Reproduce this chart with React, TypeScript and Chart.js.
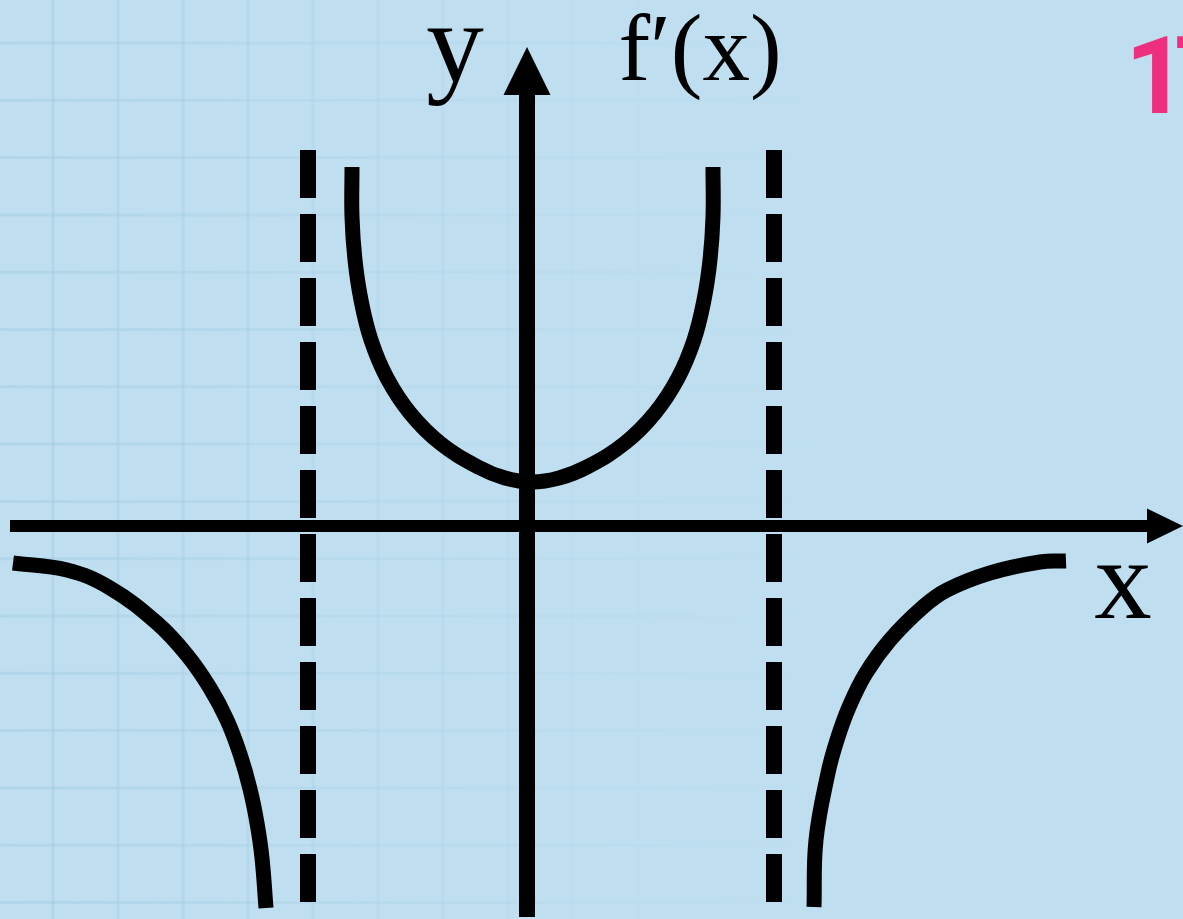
import { useEffect, useRef } from "react";
import { Chart, registerables } from "chart.js";

Chart.register(...registerables);

// Data-space window (1 unit = 100 px)
const xRange = [-5.27, 6.56];
const yRange = [-3.93, 5.26];

// f'(x) middle branch (U shape between the asymptotes)
const parabolaX = [-1.75, -1.75, -1.72, -1.66, -1.56, -1.4, -1.17, -0.87, -0.49, -0.22, 0.05, 0.32, 0.6, 0.98, 1.28, 1.51, 1.67, 1.77, 1.83, 1.86, 1.86];
const parabolaY = [3.59, 3.09, 2.66, 2.26, 1.86, 1.48, 1.13, 0.83, 0.59, 0.48, 0.44, 0.48, 0.59, 0.83, 1.13, 1.48, 1.86, 2.26, 2.66, 3.09, 3.59];

// left branch (x < left asymptote)
const leftX = [-5.14, -4.6, -4.17, -3.7, -3.4, -3.17, -3.0, -2.87, -2.77, -2.7, -2.65, -2.61];
const leftY = [-0.37, -0.44, -0.62, -0.97, -1.29, -1.62, -1.94, -2.28, -2.63, -2.97, -3.32, -3.82];

// right branch (x > right asymptote)
const rightX = [2.87, 2.89, 3.01, 3.1, 3.22, 3.39, 3.63, 3.96, 4.2, 4.63, 5.13, 5.39];
const rightY = [-3.81, -3.14, -2.47, -2.14, -1.81, -1.47, -1.14, -0.81, -0.64, -0.47, -0.36, -0.35];

// vertical asymptotes
const asymptoteXs = [-2.19, 2.47];
const asymptoteYs = [3.76, -3.76];

// axes
const xAxisXs = [-5.17, 6.2];
const xAxisTip = 6.56;
const yAxisYs = [-3.91, 4.31];
const yAxisTip = 4.79;

const labelY = "y";
const labelF = "f\u2032(x)";
const labelX = "x";
const cornerText = "17";

const BG = "rgb(191,223,241)";

const pts = (xs: number[], ys: number[]) => xs.map((x, i) => ({ x, y: ys[i] }));

export default function App() {
  const ref = useRef<HTMLCanvasElement | null>(null);

  useEffect(() => {
    const canvas = ref.current!;
    const decor = {
      id: "decor",
      beforeDraw(chart: any) {
        const ctx = chart.ctx as CanvasRenderingContext2D;
        const W = chart.width, H = chart.height;
        ctx.save();
        ctx.fillStyle = BG;
        ctx.fillRect(0, 0, W, H);
        ctx.lineWidth = 3;
        // vertical grid lines fading to the right
        for (let gx = 53; gx < W; gx += 65) {
          const a = Math.max(0, 1 - gx / 700);
          if (a <= 0) continue;
          ctx.strokeStyle = `rgba(165,204,226,${0.55 * a})`;
          ctx.beginPath();
          ctx.moveTo(gx, 0);
          ctx.lineTo(gx, H);
          ctx.stroke();
        }
        const grad = ctx.createLinearGradient(0, 0, 850, 0);
        grad.addColorStop(0, "rgba(165,204,226,0.55)");
        grad.addColorStop(0.5, "rgba(165,204,226,0.25)");
        grad.addColorStop(1, "rgba(165,204,226,0)");
        ctx.strokeStyle = grad;
        for (let gy = 43; gy < H; gy += 57.3) {
          ctx.beginPath();
          ctx.moveTo(0, gy);
          ctx.lineTo(850, gy);
          ctx.stroke();
        }
        ctx.restore();
      },
      afterDatasetsDraw(chart: any) {
        const ctx = chart.ctx as CanvasRenderingContext2D;
        const xs = chart.scales.x, ys = chart.scales.y;
        const ox = xs.getPixelForValue(0), oy = ys.getPixelForValue(0);
        ctx.save();
        ctx.fillStyle = "#000";
        // y arrow
        const yb = ys.getPixelForValue(yAxisYs[1]);
        const yt = ys.getPixelForValue(yAxisTip);
        ctx.beginPath();
        ctx.moveTo(ox, yt);
        ctx.lineTo(ox - 23.5, yb);
        ctx.lineTo(ox + 23.5, yb);
        ctx.closePath();
        ctx.fill();
        // x arrow
        const xb = xs.getPixelForValue(xAxisXs[1]);
        const xt = xs.getPixelForValue(xAxisTip);
        ctx.beginPath();
        ctx.moveTo(xt, oy);
        ctx.lineTo(xb, oy - 17.5);
        ctx.lineTo(xb, oy + 17.5);
        ctx.closePath();
        ctx.fill();
        // labels
        ctx.textAlign = "center";
        ctx.textBaseline = "alphabetic";
        ctx.font = "115px 'Liberation Serif'";
        ctx.fillText(labelY, ox - 72, oy - 444);
        ctx.fillText(labelX, ox + 596, oy + 92);
        ctx.font = "95px 'Liberation Serif'";
        ctx.fillText(labelF, ox + 173, oy - 446);
        // corner pink text
        ctx.textAlign = "left";
        ctx.fillStyle = "#EE2F7F";
        ctx.font = "bold 108px Roboto";
        (ctx as any).letterSpacing = "-13px";
        ctx.fillText(cornerText, ox + 598, oy - 413);
        ctx.restore();
      },
    };

    const curve = (data: any[]) => ({
      data,
      showLine: true,
      borderColor: "#000",
      borderWidth: 15,
      pointRadius: 0,
      tension: 0.4,
      borderCapStyle: "butt" as const,
      borderJoinStyle: "round" as const,
      fill: false,
    });
    const straight = (data: any[], w: number, dash?: number[]) => ({
      data,
      showLine: true,
      borderColor: "#000",
      borderWidth: w,
      pointRadius: 0,
      tension: 0,
      borderCapStyle: "butt" as const,
      borderDash: dash || [],
      fill: false,
    });

    const chart = new Chart(canvas, {
      type: "scatter",
      data: {
        datasets: [
          straight(pts(xAxisXs, [0, 0]), 12),
          straight(pts([0, 0], yAxisYs), 16),
          straight(pts([asymptoteXs[0], asymptoteXs[0]], asymptoteYs), 16, [48, 16]),
          straight(pts([asymptoteXs[1], asymptoteXs[1]], asymptoteYs), 16, [48, 16]),
          curve(pts(parabolaX, parabolaY)),
          curve(pts(leftX, leftY)),
          curve(pts(rightX, rightY)),
        ],
      },
      options: {
        animation: false,
        responsive: false,
        devicePixelRatio: 1,
        layout: { padding: 0 },
        plugins: { legend: { display: false }, tooltip: { enabled: false } },
        events: [],
        scales: {
          x: { type: "linear", min: xRange[0], max: xRange[1], display: false },
          y: { type: "linear", min: yRange[0], max: yRange[1], display: false },
        },
      },
      plugins: [decor],
    });
    return () => chart.destroy();
  }, []);

  return (
    <div style={{ position: "fixed", left: 0, top: 0, width: 1183, height: 919, overflow: "hidden" }}>
      <canvas ref={ref} width={1183} height={919} style={{ display: "block" }} />
    </div>
  );
}
